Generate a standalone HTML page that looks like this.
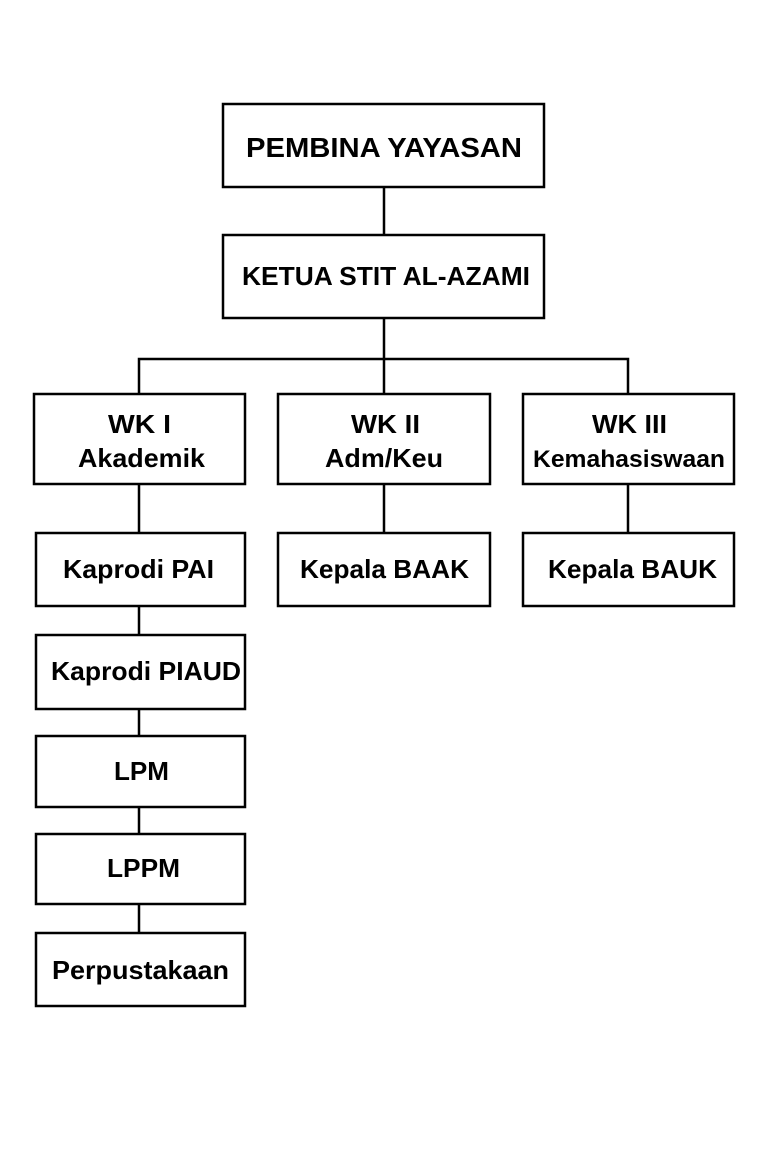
<!DOCTYPE html>
<html><head><style>body{margin:0;background:#fff}</style></head><body>
<svg width="768" height="1152" xmlns="http://www.w3.org/2000/svg" font-family="Liberation Sans, Arial, sans-serif" font-weight="bold" fill="#000">
<g stroke="#000" stroke-width="2.5" fill="none">
<rect x="223" y="104" width="321" height="83"/>
<rect x="223" y="235" width="321" height="83"/>
<rect x="34" y="394" width="211" height="90"/>
<rect x="278" y="394" width="212" height="90"/>
<rect x="523" y="394" width="211" height="90"/>
<rect x="36" y="533" width="209" height="73"/>
<rect x="278" y="533" width="212" height="73"/>
<rect x="523" y="533" width="211" height="73"/>
<rect x="36" y="635" width="209" height="74"/>
<rect x="36" y="736" width="209" height="71"/>
<rect x="36" y="834" width="209" height="70"/>
<rect x="36" y="933" width="209" height="73"/>
<path d="M384 187V235M384 318V359M139 394V359H628V394M384 359V394M139 484V533M384 484V533M628 484V533M139 606V635M139 709V736M139 807V834M139 904V933"/>
</g>
<g font-size="26" lengthAdjust="spacingAndGlyphs">
<text x="246" y="157" font-size="28" textLength="276" lengthAdjust="spacingAndGlyphs">PEMBINA YAYASAN</text>
<text x="242" y="285" textLength="288" lengthAdjust="spacingAndGlyphs">KETUA STIT AL-AZAMI</text>
<text x="108" y="433" textLength="63" lengthAdjust="spacingAndGlyphs">WK I</text>
<text x="78" y="467" textLength="127" lengthAdjust="spacingAndGlyphs">Akademik</text>
<text x="351" y="433" textLength="69" lengthAdjust="spacingAndGlyphs">WK II</text>
<text x="325" y="467" textLength="118" lengthAdjust="spacingAndGlyphs">Adm/Keu</text>
<text x="592" y="433" textLength="75" lengthAdjust="spacingAndGlyphs">WK III</text>
<text x="533" y="467" font-size="24" textLength="192" lengthAdjust="spacingAndGlyphs">Kemahasiswaan</text>
<text x="63" y="578" textLength="151" lengthAdjust="spacingAndGlyphs">Kaprodi PAI</text>
<text x="300" y="578" textLength="169" lengthAdjust="spacingAndGlyphs">Kepala BAAK</text>
<text x="548" y="578" textLength="169" lengthAdjust="spacingAndGlyphs">Kepala BAUK</text>
<text x="51" y="680" textLength="190" lengthAdjust="spacingAndGlyphs">Kaprodi PIAUD</text>
<text x="114" y="780" textLength="55" lengthAdjust="spacingAndGlyphs">LPM</text>
<text x="107" y="877" textLength="73" lengthAdjust="spacingAndGlyphs">LPPM</text>
<text x="52" y="979" textLength="177" lengthAdjust="spacingAndGlyphs">Perpustakaan</text>
</g>
</svg>
</body></html>
